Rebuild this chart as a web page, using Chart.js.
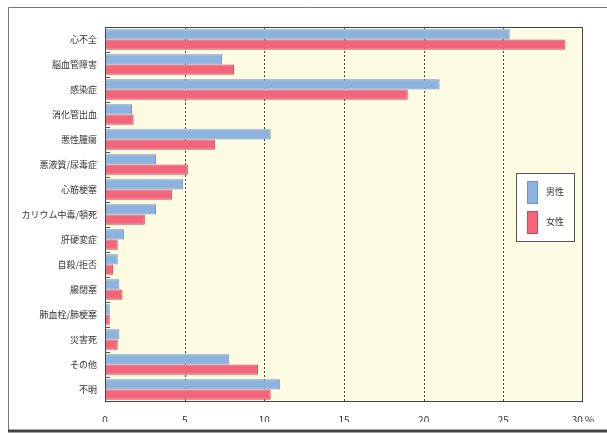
<!DOCTYPE html>
<html>
<head>
<meta charset="utf-8">
<script src="https://cdn.jsdelivr.net/npm/chart.js@4"></script>
<style>
  html, body { margin: 0; padding: 0; background: #fff; }
  #wrap { width: 607px; height: 434px; position: relative; }
</style>
</head>
<body>
<div id="wrap"><canvas id="graph"></canvas></div>
<script>
const categories = ['心不全', '脳血管障害', '感染症', '消化管出血', '悪性腫瘍', '悪液質/尿毒症', '心筋梗塞',
  'カリウム中毒/頓死', '肝硬変症', '自殺/拒否', '腸閉塞', '肺血栓/肺梗塞', '災害死', 'その他', '不明'];
const male = [25.4, 7.35, 21.0, 1.7, 10.4, 3.2, 4.9, 3.2, 1.2, 0.8, 0.9, 0.3, 0.9, 7.8, 11.0];
const female = [28.9, 8.1, 19.0, 1.8, 6.9, 5.2, 4.2, 2.5, 0.8, 0.5, 1.1, 0.3, 0.8, 9.6, 10.4];
const seriesNames = ['男性', '女性'];
const xTicks = [0, 5, 10, 15, 20, 25, 30];

const FONT = '"Noto Sans CJK JP", "Noto Sans", sans-serif';

// page frame, plot background, dotted grid, plot border, category ticks, legend box
const decor = {
  id: 'decor',
  beforeDraw(chart) {
    const { ctx, chartArea: a } = chart;
    ctx.save();
    ctx.fillStyle = '#fdfbe2';
    ctx.fillRect(a.left, a.top, a.right - a.left, a.bottom - a.top);
    ctx.restore();
  },
  beforeDatasetsDraw(chart) {
    const { ctx, chartArea: a } = chart;
    const x = chart.scales.x;
    ctx.save();
    ctx.strokeStyle = '#444';
    ctx.lineWidth = 1;
    ctx.setLineDash([2, 2]);
    xTicks.slice(1, -1).forEach(v => {
      const px = Math.round(x.getPixelForValue(v)) + 0.5;
      ctx.beginPath();
      ctx.moveTo(px, a.top);
      ctx.lineTo(px, a.bottom);
      ctx.stroke();
    });
    ctx.restore();
  },
  afterDraw(chart) {
    const { ctx, chartArea: a } = chart;
    ctx.save();
    // frame
    ctx.strokeStyle = '#777';
    ctx.lineWidth = 1;
    ctx.beginPath();
    ctx.moveTo(8.5, 431);
    ctx.lineTo(8.5, 7.5);
    ctx.lineTo(607, 7.5);
    ctx.stroke();
    ctx.strokeStyle = '#444';
    ctx.lineWidth = 3;
    ctx.beginPath();
    ctx.moveTo(8, 431);
    ctx.lineTo(607, 431);
    ctx.stroke();

    // plot border
    ctx.strokeStyle = '#444';
    ctx.lineWidth = 1;
    ctx.strokeRect(a.left + 0.5, a.top + 0.5, a.right - a.left - 1, a.bottom - a.top - 1);

    // small category ticks inside the plot
    const y = chart.scales.y;
    ctx.strokeStyle = '#555';
    for (let i = 1; i < categories.length; i++) {
      const py = Math.round((y.getPixelForValue(i - 1) + y.getPixelForValue(i)) / 2) + 0.5;
      ctx.beginPath();
      ctx.moveTo(a.left, py);
      ctx.lineTo(a.left + 5, py);
      ctx.stroke();
    }

    // legend
    ctx.fillStyle = '#fff';
    ctx.fillRect(516.5, 173.5, 58, 68);
    ctx.strokeStyle = '#555';
    ctx.strokeRect(516.5, 173.5, 58, 68);
    const ds = chart.data.datasets;
    const sy = [181, 211];
    ds.forEach((d, i) => {
      ctx.fillStyle = d.backgroundColor;
      ctx.fillRect(527, sy[i], 11, 23);
      ctx.strokeStyle = d.borderColor;
      ctx.strokeRect(527.5, sy[i] + 0.5, 10, 22);
      ctx.fillStyle = '#333';
      ctx.font = '9px ' + FONT;
      ctx.textBaseline = 'middle';
      ctx.fillText(d.label, 546, sy[i] + 11);
    });
    ctx.restore();
  }
};

new Chart(document.getElementById('graph'), {
  type: 'bar',
  data: {
    labels: categories,
    datasets: [
      {
        label: seriesNames[0],
        data: male,
        backgroundColor: '#8cb3df',
        borderColor: '#6b93c4',
        borderWidth: 1,
        categoryPercentage: 0.82,
        barPercentage: 1.0
      },
      {
        label: seriesNames[1],
        data: female,
        backgroundColor: '#f2657a',
        borderColor: '#d4455e',
        borderWidth: 1,
        categoryPercentage: 0.82,
        barPercentage: 1.0
      }
    ]
  },
  options: {
    indexAxis: 'y',
    responsive: true,
    maintainAspectRatio: false,
    animation: false,
    layout: { padding: { top: 27, right: 24, bottom: 12, left: 0 } },
    plugins: {
      legend: { display: false },
      tooltip: { enabled: false }
    },
    scales: {
      x: {
        min: 0,
        max: 30,
        afterBuildTicks: (s) => { s.ticks = xTicks.map(v => ({ value: v })); },
        afterFit: (s) => { s.height = 20; },
        border: { display: false },
        grid: { display: false },
        ticks: {
          padding: 4,
          color: '#333',
          font: { size: 10, family: FONT },
          callback: (v) => v === 30 ? '30 %' : v
        }
      },
      y: {
        afterFit: (s) => { s.width = 105; },
        border: { display: false },
        grid: { display: false },
        ticks: {
          padding: 0,
          color: '#333',
          font: { size: 9, family: FONT }
        }
      }
    }
  },
  plugins: [decor]
});
</script>
</body>
</html>
